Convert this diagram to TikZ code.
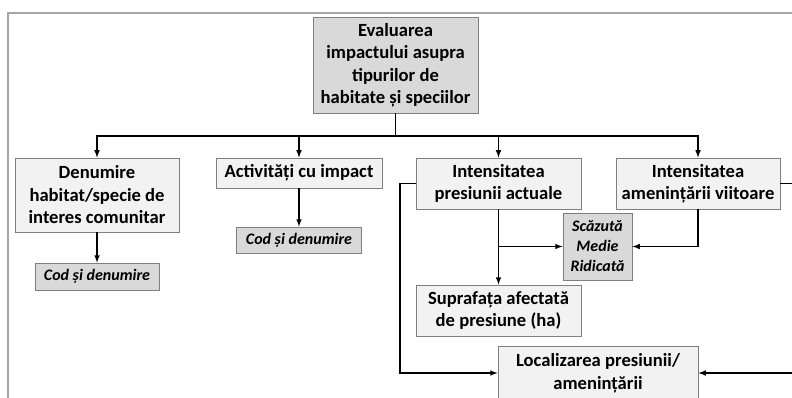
\documentclass[tikz,border=0pt]{standalone}
\usepackage{fontspec}
\setmainfont{Carlito}
\usetikzlibrary{arrows}
\definecolor{boxdark}{HTML}{D9D9D9}
\definecolor{boxlight}{HTML}{F2F2F2}
\definecolor{boxline}{HTML}{7F7F7F}
\definecolor{frameline}{HTML}{A6A6A6}
\tikzset{%
    box/.style={shape=rectangle,draw=boxline,line width=0.9pt,fill=boxlight,inner sep=0pt,align=center,font=\fontsize{18.6}{22.5}\selectfont\bfseries},
    darkbox/.style={box,fill=boxdark},
    tagbox/.style={box,fill=boxdark,font=\fontsize{16}{20}\selectfont\bfseries\itshape},
    link/.style={line width=1.5pt,black},
    arrow/.style={link,->,>=latex},
}
\begin{document}
\begin{tikzpicture}[x=1pt,y=-1pt]
    \useasboundingbox (0,0) rectangle (792,398);
    \clip (0,0) rectangle (792,398);
    \draw[frameline, line width=1.2pt] (8,13) rectangle (900,500);

    %sus
    \node[darkbox, minimum width=165, minimum height=96] (eval) at (395.5,65) {Evaluarea\\impactului asupra\\tipurilor de\\habitate și speciilor};
    \coordinate (bus) at (395.5,136);

    %rand 1
    \node[box, minimum width=164, minimum height=74] (denum) at (97,195) {Denumire\\habitat/specie de\\interes comunitar};
    \node[box, minimum width=166, minimum height=30] (activ) at (299,173) {Activități cu impact};
    \node[box, minimum width=165, minimum height=51] (presact) at (498.5,183.5) {Intensitatea\\presiunii actuale};
    \node[box, minimum width=164, minimum height=51] (amen) at (698,183.5) {Intensitatea\\amenințării viitoare};

    %rand 2
    \node[tagbox, minimum width=124, minimum height=27] (cod1) at (97,276.5) {Cod și denumire};
    \node[tagbox, minimum width=125, minimum height=26] (cod2) at (299,240) {Cod și denumire};
    \node[tagbox, minimum width=69, minimum height=67] (grad) at (597.5,246.5) {Scăzută\\Medie\\Ridicată};
    \node[box, minimum width=165, minimum height=51] (supraf) at (498.5,310.5) {Suprafața afectată\\de presiune (ha)};
    \node[box, minimum width=200, minimum height=54] (local) at (598,373) {Localizarea presiunii/\\amenințării};
    \coordinate (stg) at (400,183.5);
    \coordinate (dr) at (830,183.5);

    %legaturi
    \draw[link] (eval) -- (bus);
    \draw[arrow] (bus) -| (denum.north);
    \draw[arrow] (bus) -| (activ.north);
    \draw[arrow] (bus) -| (presact.north);
    \draw[arrow] (bus) -| (amen.north);
    \draw[arrow] (denum) -- (cod1);
    \draw[arrow] (activ) -- (cod2);
    \draw[arrow] (presact) -- (supraf);
    \draw[arrow] (presact.south |- grad.west) -- (grad.west);
    \draw[arrow] (amen.south) |- (grad.east);
    \draw[arrow] (presact.west) -- (stg) |- (local.west);
    \draw[arrow] (amen.east) -- (dr) |- (local.east);
\end{tikzpicture}
\end{document}
